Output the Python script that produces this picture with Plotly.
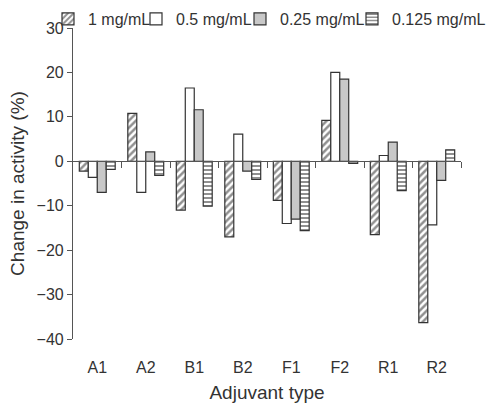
import plotly.graph_objects as go

categories = ["A1", "A2", "B1", "B2", "F1", "F2", "R1", "R2"]
series_names = ["1 mg/mL", "0.5 mg/mL", "0.25 mg/mL", "0.125 mg/mL"]
v_1 = [-2.2, 10.8, -11.0, -17.0, -8.8, 9.2, -16.5, -36.3]
v_05 = [-3.6, -7.0, 16.5, 6.1, -14.0, 20.0, 1.3, -14.3]
v_025 = [-7.0, 2.1, 11.6, -2.2, -13.0, 18.5, 4.3, -4.3]
v_0125 = [-1.8, -3.2, -10.1, -4.1, -15.6, -0.5, -6.6, 2.6]
y_ticks = [-40, -30, -20, -10, 0, 10, 20, 30]
y_range = [-40, 30]

INK = "#333333"
AX = "#555555"
values = [v_1, v_05, v_025, v_0125]
styles = [
    dict(color="white", line=dict(color=INK, width=1.2),
         pattern=dict(shape="/", fgcolor="#222222", bgcolor="white", size=5, solidity=0.5)),
    dict(color="white", line=dict(color=INK, width=1.2)),
    dict(color="#c8c8c8", line=dict(color=INK, width=1.2)),
    dict(color="white", line=dict(color=INK, width=1.2),
         pattern=dict(shape="-", fgcolor="#222222", bgcolor="white", size=4, solidity=0.5)),
]
legend_ids = ["legend", "legend2", "legend3", "legend4"]

fig = go.Figure()
for name, vals, st, lg in zip(series_names, values, styles, legend_ids):
    fig.add_trace(go.Bar(x=categories, y=vals, name=name, marker=st, legend=lg))
# empty trace so that the zero-line axis pair (x2/y2) gets drawn
fig.add_trace(go.Scatter(x=[None], y=[None], xaxis="x2", yaxis="y2",
                         showlegend=False, hoverinfo="skip"))

W, H = 492, 407
L, R, T, B = 73, 31, 28, 68
pw = W - L - R
ph = H - T - B

def px2x(p):
    return (p - L) / pw

def py2y(p):
    return (H - B - p) / ph

zero_frac = (0 - y_range[0]) / (y_range[1] - y_range[0])

text_starts = [92, 180, 284, 396]
legend_font = dict(family="Liberation Sans, Arial", size=16, color=INK)
layout_legends = {}
for lg, ts in zip(legend_ids, text_starts):
    layout_legends[lg] = dict(
        x=px2x(ts - 44), y=py2y(19), xanchor="left", yanchor="middle",
        orientation="h", bgcolor="rgba(0,0,0,0)", borderwidth=0,
        font=legend_font, itemwidth=30,
    )

fig.update_layout(
    width=W, height=H,
    margin=dict(l=L, r=R, t=T, b=B, autoexpand=False),
    paper_bgcolor="white", plot_bgcolor="rgba(0,0,0,0)",
    barmode="group", bargap=0.26, bargroupgap=0,
    font=dict(family="Liberation Sans, Arial", color=INK),
    showlegend=True,
    **layout_legends,
    xaxis=dict(
        type="category", categoryorder="array", categoryarray=categories,
        showline=False, showgrid=False, zeroline=False,
        ticks="outside", ticklen=14, tickcolor="rgba(0,0,0,0)",
        tickfont=dict(size=16, color=INK),
        title=dict(text="Adjuvant type", font=dict(size=19, color=INK), standoff=10),
    ),
    xaxis2=dict(
        anchor="y2", domain=[0, 1],
        range=[-0.5, len(categories) - 0.5], side="bottom",
        tickvals=[i + 0.5 for i in range(len(categories))],
        showticklabels=False, ticks="outside", ticklen=6, tickcolor=AX,
        showline=True, linecolor=AX, linewidth=1.2,
        showgrid=False, zeroline=False,
    ),
    yaxis2=dict(
        anchor="x2", domain=[zero_frac, 1], visible=False,
        range=[0, y_range[1]], showgrid=False, zeroline=False,
    ),
    yaxis=dict(
        range=y_range, tickvals=y_ticks,
        showline=True, linecolor=AX, linewidth=1.2,
        ticks="outside", ticklen=5, tickcolor=AX,
        showgrid=False, zeroline=False,
        tickfont=dict(size=16, color=INK),
        title=dict(text="Change in activity (%)", font=dict(size=19, color=INK), standoff=6),
    ),
)

fig.write_html("out.html", config={"displayModeBar": False},
               post_script="document.body.style.margin='0';")
